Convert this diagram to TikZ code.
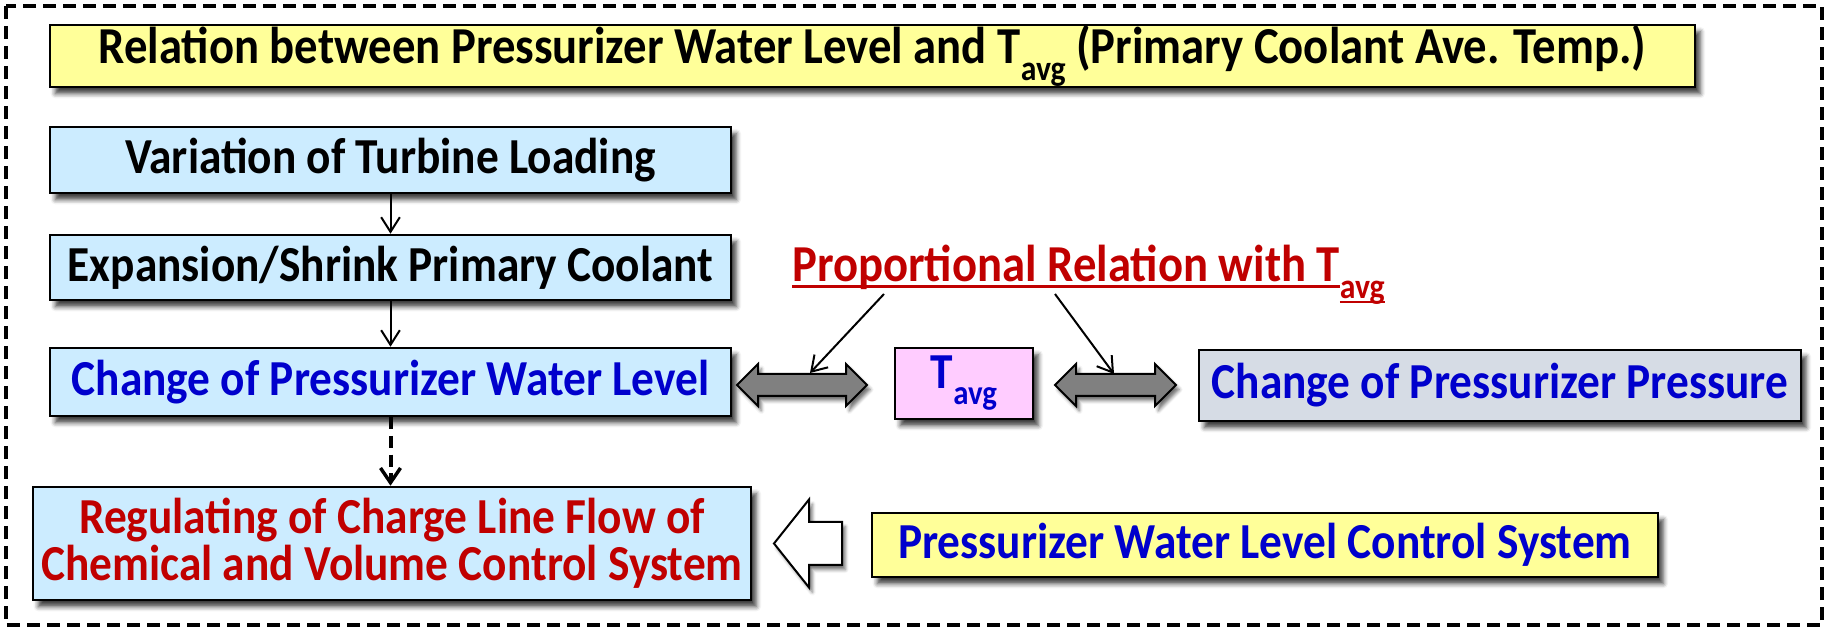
\documentclass[tikz,border=0pt]{standalone}
\usepackage{fontspec}
\setmainfont{Carlito}[FakeStretch=0.9]
\usetikzlibrary{calc,arrows.meta,shadows.blur}

\definecolor{boxblue}{HTML}{CCECFF}
\definecolor{boxyellow}{HTML}{FFFF99}
\definecolor{boxpink}{HTML}{FFCCFF}
\definecolor{boxgray}{HTML}{D6DCE5}
\definecolor{txtblue}{HTML}{0000CC}
\definecolor{txtred}{HTML}{C00000}
\definecolor{arrgray}{HTML}{808080}

% underline set close to the baseline
\newcommand\ulbox[1]{\setbox0=\hbox{#1}\rlap{\rule[-0.12em]{\wd0}{0.058em}}\box0}
% T with the subscript "avg"
\newcommand\Tavg{T\raisebox{-0.32em}{\scalebox{0.68}{avg}}}

\begin{document}
\begin{tikzpicture}[x=0.75pt,y=-0.75pt,
  sized/.style 2 args={minimum width=#1*0.75pt, minimum height=#2*0.75pt},
  box/.style={draw=black, line width=1.9pt, inner sep=0pt, align=center,
    font=\bfseries\fontsize{37.8}{35}\selectfont,
    blur shadow={shadow xshift=4pt, shadow yshift=-5pt, shadow blur radius=3.5pt, shadow opacity=75}},
  flow/.style={draw=black, line width=1.5pt, -{Straight Barb[length=11pt,width=14pt,line width=1.5pt]}},
  dashflow/.style={draw=black, line width=3pt, dash pattern=on 9pt off 5pt,
    -{Straight Barb[length=11pt,width=15pt,line width=2.6pt]}},
  fatarrow/.style={draw=black, line width=1.5pt, line join=miter,
    blur shadow={shadow xshift=2.5pt, shadow yshift=-3.5pt, shadow blur radius=2.5pt, shadow opacity=55}},
  frame/.style={draw=black, line width=2.4pt, dash pattern=on 10pt off 5pt}
]
\useasboundingbox (0,0) rectangle (1828,630);

% dashed frame round the whole diagram
\draw[frame] (6,6) rectangle (1822,625);

% title
\node[box, fill=boxyellow, sized={1645}{62}, font=\bfseries\fontsize{38.9}{36}\selectfont] (title) at (872.5,56)
  {Relation between Pressurizer Water Level and \Tavg{} (Primary Coolant Ave. Temp.)};

% left column
\node[box, fill=boxblue, sized={681}{66}] (b1) at (390.5,160) {Variation of Turbine Loading};
\node[box, fill=boxblue, sized={681}{65}] (b2) at (390.5,267.5) {Expansion/Shrink Primary Coolant};
\node[box, fill=boxblue, sized={681}{68}, text=txtblue] (b3) at (390.5,382) {Change of Pressurizer Water Level};
\node[box, fill=boxblue, sized={718}{113}, text=txtred] (b4) at (392,543.5)
  {Regulating of Charge Line Flow of\\Chemical and Volume Control System};

% middle and right
\node[box, fill=boxpink, sized={138}{71}, text=txtblue] (tavg) at (964,383.5) {\Tavg};
\node[box, fill=boxgray, sized={602}{71}, text=txtblue] (press) at (1500,385.5) {Change of Pressurizer Pressure};
\node[box, fill=boxyellow, sized={786}{64}, text=txtblue] (ctrl) at (1265,545) {Pressurizer Water Level Control System};

% label over the T_avg row
\node[anchor=base, text=txtred, inner sep=0pt, font=\bfseries\fontsize{38.9}{40}\selectfont] (prop) at (1088.5,282)
  {\ulbox{Proportional Relation with T}\raisebox{-0.32em}{\scalebox{0.68}{\ulbox{avg}}}};

% vertical flow
\draw[flow] (b1.south) -- (b2.north);
\draw[flow] (b2.south) -- (b3.north);
\draw[dashflow] (b3.south) -- (b3.south |- b4.north);

% double block arrows
\coordinate (dl) at (802,385);
\coordinate (dr) at (1115.5,385);
\begin{scope}[shift={(dl)}]
  \draw[fatarrow, fill=arrgray] (-65,0) -- (-44,-21) -- (-44,-11) -- (44,-11) -- (44,-21) -- (65,0)
    -- (44,21) -- (44,11) -- (-44,11) -- (-44,21) -- cycle;
\end{scope}
\begin{scope}[shift={(dr)}]
  \draw[fatarrow, fill=arrgray] (-60.5,0) -- (-39.5,-21) -- (-39.5,-11) -- (39.5,-11) -- (39.5,-21) -- (60.5,0)
    -- (39.5,21) -- (39.5,11) -- (-39.5,11) -- (-39.5,21) -- cycle;
\end{scope}

% pointers from the label
\draw[flow] ($(prop.base)+(-204.5,12)$) -- ($(dl)+(8,-12)$);
\draw[flow] ($(prop.base)+(-33.5,12)$) -- ($(dr)+(-1.5,-11)$);

% white block arrow from the control system to the regulating box
\coordinate (wa) at (774,543.5);
\begin{scope}[shift={(wa)}]
  \draw[fatarrow, fill=white] (0,0) -- (35,-44) -- (35,-21.5) -- (68,-21.5) -- (68,21.5) -- (35,21.5)
    -- (35,44) -- cycle;
\end{scope}
\end{tikzpicture}
\end{document}
